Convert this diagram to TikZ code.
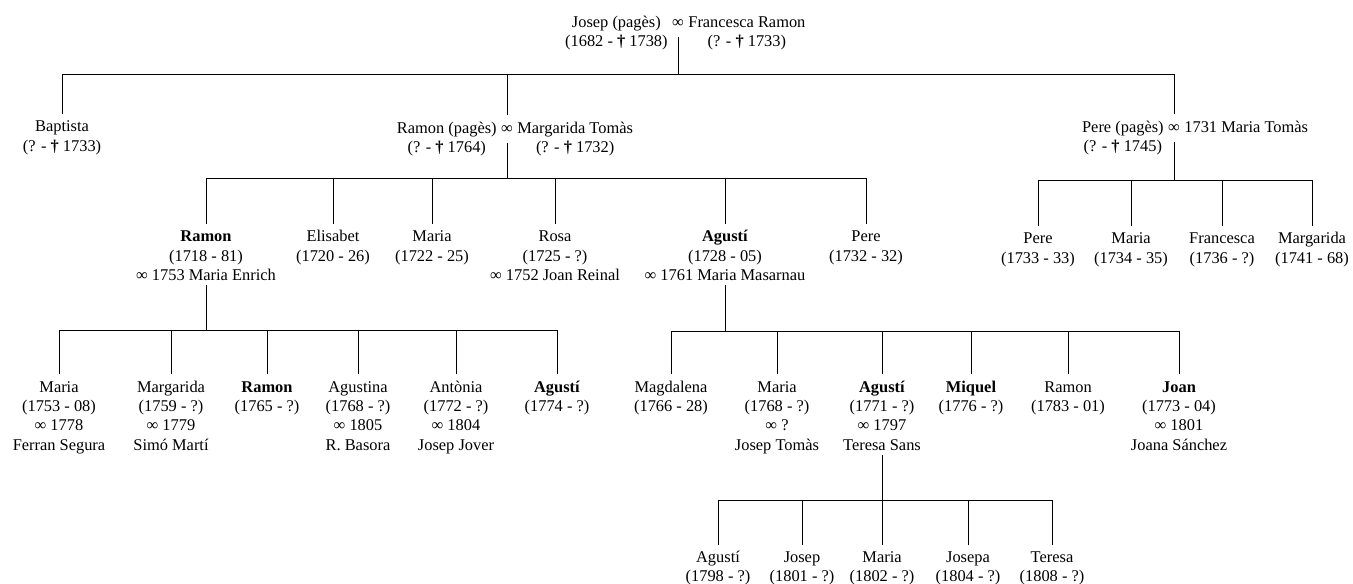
\documentclass[tikz,border=0pt]{standalone}
\usepackage{fontspec}
\setmainfont{Liberation Serif}
\newcommand{\mort}{{\bfseries †}}

\begin{document}
\begin{tikzpicture}[x=0.75pt,y=-0.75pt,
    font=\fontsize{12.3}{14.5}\selectfont,
    person/.style={anchor=north,align=center,inner xsep=1.5pt,inner ysep=3pt},
    link/.style={line width=0.75pt}]
  \useasboundingbox (0,0) rectangle (1353,584);

  % couples
  \node[person] (josep) at (678,9.5) {\strut ∞};
  \node[person,anchor=north east] (josepL) at (josep.north west) {\strut Josep (pagès)\\(1682 - \mort\ 1738)};
  \node[person,anchor=north west] (josepR) at (josep.north east) {\strut Francesca Ramon\\(? - \mort\ 1733)};

  \node[person] (ramonP) at (507,115.5) {\strut ∞};
  \node[person,anchor=north east] (ramonPL) at (ramonP.north west) {\strut Ramon (pagès)\\(? - \mort\ 1764)};
  \node[person,anchor=north west] (ramonPR) at (ramonP.north east) {\strut Margarida Tomàs\\(? - \mort\ 1732)};

  \node[person] (pereP) at (1174,114.5) {\strut ∞};
  \node[person,anchor=north east] (perePL) at (pereP.north west) {\strut Pere (pagès)\\(? - \mort\ 1745)};
  \node[person,anchor=north west] (perePR) at (pereP.north east) {\strut 1731 Maria Tomàs};

  \node[person] (bapt) at (62,114) {\strut Baptista\\(? - \mort\ 1733)};

  % children of Ramon (pages)
  \node[person] (ramonA) at (206,224) {\strut\textbf{Ramon}\\(1718 - 81)\\∞ 1753 Maria Enrich};
  \node[person] (elis) at (333,224) {\strut Elisabet\\(1720 - 26)};
  \node[person] (mariaA) at (432,224) {\strut Maria\\(1722 - 25)};
  \node[person] (rosa) at (555,224) {\strut Rosa\\(1725 - ?)\\∞ 1752 Joan Reinal};
  \node[person] (agustiA) at (725,224) {\strut\textbf{Agustí}\\(1728 - 05)\\∞ 1761 Maria Masarnau};
  \node[person] (pereA) at (866,224) {\strut Pere\\(1732 - 32)};

  % children of Pere (pages)
  \node[person] (pereB) at (1038,226) {\strut Pere\\(1733 - 33)};
  \node[person] (mariaB) at (1131,226) {\strut Maria\\(1734 - 35)};
  \node[person] (franc) at (1222,226) {\strut Francesca\\(1736 - ?)};
  \node[person] (margB) at (1312,226) {\strut Margarida\\(1741 - 68)};

  % children of Ramon
  \node[person] (mariaC) at (59,374.5) {\strut Maria\\(1753 - 08)\\∞ 1778\\Ferran Segura};
  \node[person] (margC) at (171,374.5) {\strut Margarida\\(1759 - ?)\\∞ 1779\\Simó Martí};
  \node[person] (ramonC) at (267,374.5) {\strut\textbf{Ramon}\\(1765 - ?)};
  \node[person] (agustina) at (358,374.5) {\strut Agustina\\(1768 - ?)\\∞ 1805\\R. Basora};
  \node[person] (antonia) at (456,374.5) {\strut Antònia\\(1772 - ?)\\∞ 1804\\Josep Jover};
  \node[person] (agustiC) at (557,374.5) {\strut\textbf{Agustí}\\(1774 - ?)};

  % children of Agusti
  \node[person] (magd) at (671,374.5) {\strut Magdalena\\(1766 - 28)};
  \node[person] (mariaD) at (777,374.5) {\strut Maria\\(1768 - ?)\\∞ ?\\Josep Tomàs};
  \node[person] (agustiD) at (882,374.5) {\strut\textbf{Agustí}\\(1771 - ?)\\∞ 1797\\Teresa Sans};
  \node[person] (miquel) at (971,374.5) {\strut\textbf{Miquel}\\(1776 - ?)};
  \node[person] (ramonD) at (1068,374.5) {\strut Ramon\\(1783 - 01)};
  \node[person] (joan) at (1179,374.5) {\strut\textbf{Joan}\\(1773 - 04)\\∞ 1801\\Joana Sánchez};

  % grandchildren
  \node[person] (agustiE) at (718,544.5) {\strut Agustí\\(1798 - ?)};
  \node[person] (josepE) at (802,544.5) {\strut Josep\\(1801 - ?)};
  \node[person] (mariaE) at (882,544.5) {\strut Maria\\(1802 - ?)};
  \node[person] (josepa) at (968,544.5) {\strut Josepa\\(1804 - ?)};
  \node[person] (teresa) at (1052,544.5) {\strut Teresa\\(1808 - ?)};

  % bars
  \coordinate (b0) at (678,75);
  \coordinate (b1) at (507,179);
  \coordinate (b2) at (1174,181);
  \coordinate (b3) at (206,331);
  \coordinate (b4) at (725,332);
  \coordinate (b5) at (882,500);

  \draw[link] (josep.south) -- (b0);
  \foreach \c in {bapt,ramonP,pereP} \draw[link] (\c.north) |- (b0);
  \draw[link] (ramonP.south) -- (b1);
  \foreach \c in {ramonA,elis,mariaA,rosa,agustiA,pereA} \draw[link] (\c.north) |- (b1);
  \draw[link] (pereP.south) -- (b2);
  \foreach \c in {pereB,mariaB,franc,margB} \draw[link] (\c.north) |- (b2);
  \draw[link] (ramonA.south) -- (b3);
  \foreach \c in {mariaC,margC,ramonC,agustina,antonia,agustiC} \draw[link] (\c.north) |- (b3);
  \draw[link] (agustiA.south) -- (b4);
  \foreach \c in {magd,mariaD,agustiD,miquel,ramonD,joan} \draw[link] (\c.north) |- (b4);
  \draw[link] (agustiD.south) -- (b5);
  \foreach \c in {agustiE,josepE,mariaE,josepa,teresa} \draw[link] (\c.north) |- (b5);
\end{tikzpicture}
\end{document}
